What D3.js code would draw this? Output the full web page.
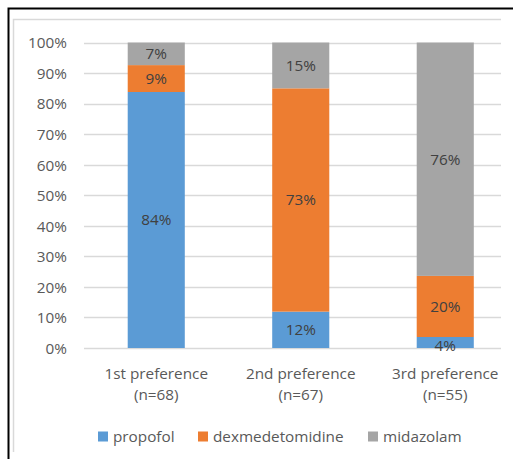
<!DOCTYPE html>
<html><head><meta charset="utf-8">
<script src="https://cdn.jsdelivr.net/npm/d3@7"></script>
<style>body{margin:0;background:#fff}svg{display:block}text{font-family:"Open Sans",sans-serif}</style>
</head><body><svg id="c" width="513" height="459"></svg>
<script>
const categories = ["1st preference|(n=68)", "2nd preference|(n=67)", "3rd preference|(n=55)"];
const seriesNames = ["propofol", "dexmedetomidine", "midazolam"];
const propofol = [83.8, 11.9, 3.6];
const dexmedetomidine = [8.8, 73.1, 20.0];
const midazolam = [7.4, 15.0, 76.4];
const yTicks = [0, 10, 20, 30, 40, 50, 60, 70, 80, 90, 100];
const colors = ["#5B9BD5", "#ED7D31", "#A5A5A5"];

const svg = d3.select("#c");
// borders
svg.append("path").attr("d","M8.5,459 V8.5 H513").attr("fill","none").attr("stroke","#000").attr("stroke-width",2);
svg.append("path").attr("d","M13.5,452 V19.5 H501").attr("fill","none").attr("stroke","#d9d9d9").attr("stroke-width",1.5);

const x = d3.scaleBand().domain(categories).range([84, 517.5]).paddingInner(0.605).paddingOuter(0.3025);
const y = d3.scaleLinear().domain([0, 100]).range([348, 42.5]);

// gridlines
svg.append("g").selectAll("line").data(yTicks).join("line")
  .attr("x1", 84).attr("x2", 501).attr("y1", d => Math.round(y(d))+0.5).attr("y2", d => Math.round(y(d))+0.5)
  .attr("stroke", "#d9d9d9").attr("stroke-width", 1.3);

// y axis labels
const yAxis = d3.axisLeft(y).tickValues(yTicks).tickFormat(d => d + "%").tickSize(0).tickPadding(0);
const ya = svg.append("g").attr("transform", "translate(67,0)").call(yAxis);
ya.select(".domain").remove();
ya.selectAll("text").attr("fill", "#595959").style("font-size", "15.3px").style("font-family", "'Open Sans',sans-serif").attr("dy","0.35em");

const data = categories.map((c, i) => ({cat: c, propofol: propofol[i], dexmedetomidine: dexmedetomidine[i], midazolam: midazolam[i]}));
const stack = d3.stack().keys(seriesNames)(data);

const g = svg.append("g");
stack.forEach((s, si) => {
  g.selectAll(null).data(s).join("rect")
    .attr("x", d => x(d.data.cat)).attr("width", x.bandwidth())
    .attr("y", d => y(d[1])).attr("height", d => y(d[0]) - y(d[1]))
    .attr("fill", colors[si]);
});
stack.forEach((s, si) => {
  g.selectAll(null).data(s).join("text")
    .attr("x", d => x(d.data.cat) + x.bandwidth()/2)
    .attr("y", d => (y(d[0]) + y(d[1]))/2)
    .attr("dy", d => (d[1]-d[0]) < 6 ? "0.55em" : "0.35em")
    .attr("text-anchor", "middle").attr("fill", "#404040").style("font-size", "15.3px")
    .text(d => Math.round(d[1]-d[0]) + "%");
});

// x category labels
const xa = svg.append("g");
categories.forEach(c => {
  const parts = c.split("|");
  const t = xa.append("text").attr("text-anchor","middle").attr("fill","#595959").style("font-size","15.3px")
    .attr("x", x(c) + x.bandwidth()/2);
  t.append("tspan").attr("x", x(c) + x.bandwidth()/2).attr("y", 378.5).text(parts[0]);
  t.append("tspan").attr("x", x(c) + x.bandwidth()/2).attr("y", 399.5).text(parts[1]);
});

// legend
const legX = [98, 198, 368];
const leg = svg.append("g");
seriesNames.forEach((n, i) => {
  leg.append("rect").attr("x", legX[i]).attr("y", 431.5).attr("width", 10).attr("height", 10).attr("fill", colors[i]);
  leg.append("text").attr("x", legX[i] + 15).attr("y", 437).attr("dy","0.35em").attr("fill","#595959").style("font-size","15.3px").text(n);
});
</script></body></html>
